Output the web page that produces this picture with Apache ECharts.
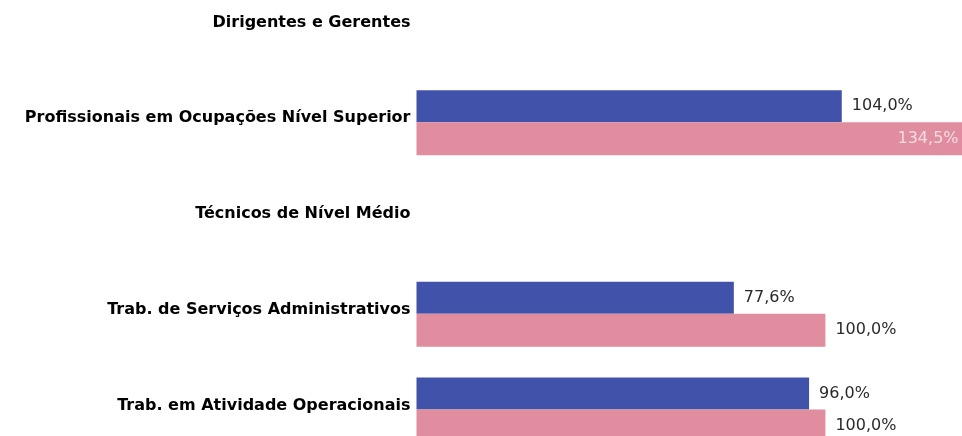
<!DOCTYPE html>
<html>
<head>
<meta charset="utf-8">
<script src="https://cdn.jsdelivr.net/npm/echarts@6/dist/echarts.min.js"></script>
<style>
html,body{margin:0;padding:0;background:#fff;overflow:hidden;width:962px;height:436px;position:relative;}
#chart{position:absolute;left:0;top:-21.5px;width:989px;height:478.5px;}
</style>
</head>
<body>
<div id="chart"></div>
<script>
const categories = [
  'Dirigentes e Gerentes',
  'Profissionais em Ocupações Nível Superior',
  'Técnicos de Nível Médio',
  'Trab. de Serviços Administrativos',
  'Trab. em Atividade Operacionais'
];
const seriesBlue = [null, 104.0, null, 77.6, 96.0];
const seriesPink = [null, 134.5, null, 100.0, 100.0];

const fmt = p => p.value == null ? '' : p.value.toFixed(1).replace('.', ',') + '%';

const chart = echarts.init(document.getElementById('chart'));
chart.setOption({
  animation: false,
  backgroundColor: '#ffffff',
  grid: { left: 416.5, right: 0, top: 0, bottom: 0, containLabel: false },
  xAxis: {
    type: 'value', min: 0, max: 140, show: false
  },
  yAxis: {
    type: 'category', data: categories, inverse: true,
    axisLine: { show: false }, axisTick: { show: false },
    axisLabel: {
      margin: 6, color: '#000', fontFamily: 'DejaVu Sans, sans-serif',
      fontWeight: 'bold', fontSize: 16, verticalAlign: 'bottom', lineHeight: 9
    }
  },
  series: [
    {
      type: 'bar', data: seriesBlue, barWidth: 32, barGap: '0%',
      itemStyle: { color: '#4152AA' },
      label: {
        show: true, position: 'right', distance: 10, formatter: fmt,
        color: '#2a2a2a', fontFamily: 'DejaVu Sans, sans-serif', fontSize: 16
      }
    },
    {
      type: 'bar', data: seriesPink.map(v => (v != null && v > 130)
        ? { value: v, label: { position: 'insideRight', distance: 8, color: '#f5dbe1' } }
        : v),
      barWidth: 33, barGap: '0%',
      itemStyle: { color: '#E08D9F' },
      label: {
        show: true, position: 'right', distance: 10, formatter: fmt,
        color: '#2a2a2a', fontFamily: 'DejaVu Sans, sans-serif', fontSize: 16
      }
    }
  ]
});
</script>
</body>
</html>
